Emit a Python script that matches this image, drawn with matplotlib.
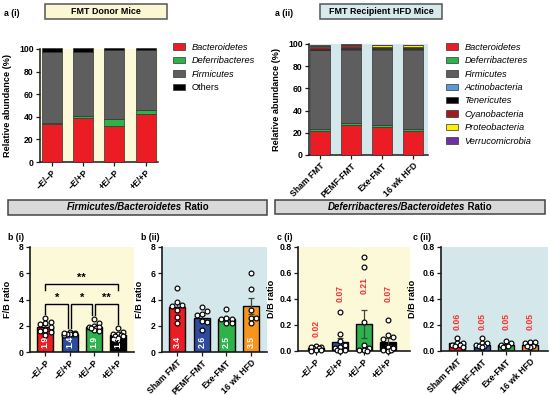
import numpy as np
import matplotlib
matplotlib.use('Agg')
import matplotlib.pyplot as plt
from matplotlib.patches import Rectangle
from matplotlib.offsetbox import TextArea, HPacker, AnnotationBbox

plt.rcParams['font.family'] = ['Liberation Sans', 'DejaVu Sans']
plt.rcParams['font.weight'] = 'bold'
plt.rcParams['axes.unicode_minus'] = True

# ---------------- data ----------------
donor_groups = ['−E/−P', '−E/+P', '+E/−P', '+E/+P']
recip_groups = ['Sham FMT', 'PEMF-FMT', 'Exe-FMT', '16 wk HFD']

donor_taxa = ['Bacteroidetes', 'Deferribacteres', 'Firmicutes', 'Others']
donor_bacteroidetes = [34.0, 38.7, 31.8, 42.3]
donor_deferribacteres = [0.3, 2.0, 6.6, 3.3]
donor_firmicutes = [62.7, 56.3, 60.4, 53.2]
donor_others = [4.0, 4.0, 2.2, 2.2]

recip_taxa = ['Bacteroidetes', 'Deferribacteres', 'Firmicutes', 'Actinobacteria',
              'Tenericutes', 'Cyanobacteria', 'Proteobacteria', 'Verrucomicrobia']
recip_bacteroidetes = [21.9, 27.0, 25.2, 21.9]
recip_deferribacteres = [1.8, 1.5, 1.5, 1.8]
recip_firmicutes = [70.9, 66.4, 68.2, 71.2]
recip_actinobacteria = [0.3, 0.3, 0.3, 0.3]
recip_tenericutes = [1.0, 1.5, 1.3, 1.2]
recip_cyanobacteria = [1.3, 1.2, 0.5, 0.6]
recip_proteobacteria = [0.6, 1.2, 2.0, 1.9]
recip_verrucomicrobia = [1.0, 0.8, 0.4, 0.4]

fb_donor_means = [1.9, 1.4, 1.9, 1.3]
fb_donor_points = [
    [2.3, 2.6, 2.2, 2.1, 1.9, 1.7, 1.3, 1.5, 1.6],
    [1.5, 1.45, 1.4, 1.35, 1.4, 1.3, 1.45, 1.35],
    [2.5, 2.2, 2.0, 1.9, 1.8, 1.9, 1.7, 1.6, 1.8],
    [1.8, 1.5, 1.4, 1.3, 1.35, 1.2, 1.1, 1.0, 1.2],
]
fb_recip_means = [3.4, 2.6, 2.5, 3.5]
fb_recip_points = [
    [4.9, 3.8, 3.6, 3.5, 3.2, 2.7, 2.2],
    [3.4, 3.1, 2.8, 2.9, 2.4, 2.3, 1.7],
    [3.3, 2.6, 2.5, 2.5, 2.2, 2.2],
    [6.0, 4.8, 3.2, 2.6, 2.6, 2.2],
]
db_donor_means = [0.02, 0.07, 0.21, 0.07]
db_donor_points = [
    [0.04, 0.03, 0.02, 0.02, 0.01, 0.01, 0.03, 0.0],
    [0.30, 0.13, 0.08, 0.05, 0.03, 0.02, 0.01, 0.01, 0.0],
    [0.72, 0.65, 0.22, 0.05, 0.02, 0.01, 0.0, 0.01],
    [0.24, 0.12, 0.11, 0.09, 0.03, 0.01, 0.0, 0.01, 0.02],
]
db_recip_means = [0.06, 0.05, 0.05, 0.05]
db_recip_points = [
    [0.10, 0.06, 0.06, 0.05, 0.05, 0.04, 0.03],
    [0.10, 0.06, 0.06, 0.05, 0.04, 0.04, 0.03],
    [0.08, 0.06, 0.05, 0.04, 0.03, 0.04],
    [0.07, 0.06, 0.07, 0.04, 0.03, 0.04],
]
db_donor_label_y = [0.17, 0.44, 0.50, 0.44]
db_recip_label_y = [0.23, 0.23, 0.23, 0.23]

fb_comparisons = [(0, 1, '*'), (1, 2, '*'), (2, 3, '**'), (0, 3, '**')]

# ---------------- style ----------------
YELLOW = '#FBF9D8'
BLUE = '#D4E8EC'
RED = '#EC1C24'
GREEN = '#2DB34A'
GREY = '#5E5E5E'
DBLUE = '#2E4C9E'
ORANGE = '#F7941D'
donor_colors = [RED, GREEN, GREY, 'black']
recip_colors = [RED, GREEN, GREY, '#5B9BD5', 'black', '#A3191C', '#FFF200', '#7030A0']
group_colors = [RED, DBLUE, GREEN, 'black']
recip_group_colors = [RED, DBLUE, GREEN, ORANGE]

W, H = 550, 395
fig = plt.figure(figsize=(W / 100, H / 100), dpi=100)
FS = 6.2


def add_ax(l, t, r, b):
    return fig.add_axes([l / W, 1 - b / H, (r - l) / W, (b - t) / H])


def fig_box(l, t, r, b, fc, ec, lw=1.1):
    fig.add_artist(Rectangle((l / W, 1 - b / H), (r - l) / W, (b - t) / H,
                             transform=fig.transFigure, fc=fc, ec=ec, lw=lw))


def fig_label(x, y, s, **kw):
    fig.text(x / W, 1 - y / H, s, **kw)


def style_axes(ax, lw=1.1):
    for s in ['top', 'right']:
        ax.spines[s].set_visible(False)
    for s in ['left', 'bottom']:
        ax.spines[s].set_linewidth(lw)
        ax.spines[s].set_color('#1a1a1a')
    ax.tick_params(direction='out', length=3, width=0.9, labelsize=FS, pad=1.5, color='#1a1a1a')


def ylabel_at(ax, text, xpx, box):
    l, t, r, b = box
    ax.set_ylabel(text, fontsize=6.6, fontweight='bold')
    ax.yaxis.set_label_coords((xpx - l) / (r - l), 0.5)


def stacked(box, groups, layers, colors, labels, bg, xlim, leg_xy):
    ax = add_ax(*box)
    x = np.arange(len(groups))
    bottom = np.zeros(len(groups))
    handles = []
    for vals, c in zip(layers, colors):
        vals = np.asarray(vals, float)
        bc = ax.bar(x, vals, 0.64, bottom=bottom, color=c, edgecolor='#333333',
                    linewidth=0.5, clip_on=False, zorder=3)
        bottom += vals
        handles.append(bc)
    ax.set_facecolor(bg)
    ax.set_xlim(*xlim)
    ax.set_ylim(0, 100)
    ax.set_yticks(range(0, 101, 20))
    ax.set_xticks(x)
    ax.set_xticklabels(groups, rotation=45, ha='right', va='top',
                       rotation_mode='anchor', fontsize=FS)
    style_axes(ax)
    leg = ax.legend(handles, labels, loc='upper left',
                    bbox_to_anchor=(leg_xy[0] / W, 1 - leg_xy[1] / H),
                    bbox_transform=fig.transFigure, frameon=False,
                    prop={'size': 6.7, 'style': 'italic', 'weight': 'normal'},
                    handlelength=1.25, handleheight=0.7, handletextpad=0.75,
                    labelspacing=0.47, borderpad=0, borderaxespad=0)
    for t in leg.get_texts():
        if t.get_text() == 'Others':
            t.set_style('normal')
    return ax


def swarm(vals, px_x, px_y, diam=5.2, maxoff=0.3):
    vals = np.asarray(vals, float)
    order = np.argsort(-vals, kind='stable')
    cands = [0.0]
    for k in range(1, 30):
        cands += [k * 0.5 * diam, -k * 0.5 * diam]
    placed = []
    offs = np.zeros(len(vals))
    for i in order:
        y = vals[i] * px_y
        best, bestd = 0.0, -1
        chosen = None
        for c in cands:
            if abs(c) / px_x > maxoff:
                continue
            d = min([np.hypot(c - ox, y - oy) for ox, oy in placed] + [1e9])
            if d >= diam:
                chosen = c
                break
            if d > bestd:
                best, bestd = c, d
        if chosen is None:
            chosen = best
        placed.append((chosen, y))
        offs[i] = chosen / px_x
    return offs


def ratio(box, groups, means, points, colors, bg, xlim, ylim, yticks, ytfmt,
          inside=True, label_y=None):
    ax = add_ax(*box)
    l, t, r, b = box
    x = np.arange(len(groups))
    ax.set_facecolor(bg)
    ax.bar(x, means, 0.66, color=colors, edgecolor='black', linewidth=1.0, zorder=2)
    sems = [np.std(p, ddof=1) / np.sqrt(len(p)) for p in points]
    ax.errorbar(x, means, yerr=sems, fmt='none', ecolor='#444444', elinewidth=0.9,
                capsize=2, capthick=0.9, zorder=3)
    px_x = (r - l) / (xlim[1] - xlim[0])
    px_y = (b - t) / (ylim[1] - ylim[0])
    for xi, p in zip(x, points):
        offs = swarm(p, px_x, px_y)
        ax.scatter(xi + offs, p, s=12, facecolor='white', edgecolor='black',
                   linewidth=0.85, zorder=4, clip_on=False)
    for i, m in enumerate(means):
        s = f'{m:.1f}' if inside else f'{m:.2f}'
        if inside:
            ax.text(i, 0.1 * ylim[1], s, rotation=90, ha='center', va='center',
                    color='white', fontsize=FS, fontweight='bold', zorder=5)
        else:
            ax.text(i, label_y[i], s, rotation=90, ha='center', va='center',
                    color='#FF2A2A', fontsize=FS, fontweight='bold', zorder=5)
    ax.set_xlim(*xlim)
    ax.set_ylim(*ylim)
    ax.set_yticks(yticks)
    ax.set_yticklabels([ytfmt.format(v) for v in yticks])
    ax.set_xticks(x)
    ax.set_xticklabels(groups, rotation=45, ha='right', va='top',
                       rotation_mode='anchor', fontsize=FS)
    style_axes(ax, lw=1.2)
    return ax


# ---------------- top row ----------------
box_ai = (40, 49, 158, 162)
ax_ai = stacked(box_ai, donor_groups,
                [donor_bacteroidetes, donor_deferribacteres, donor_firmicutes, donor_others],
                donor_colors, donor_taxa, YELLOW, (-0.385, 3.40), (173, 43))
ylabel_at(ax_ai, 'Relative abundance (%)', 12, box_ai)

box_aii = (309, 44, 428, 155)
ax_aii = stacked(box_aii, recip_groups,
                 [recip_bacteroidetes, recip_deferribacteres, recip_firmicutes,
                  recip_actinobacteria, recip_tenericutes, recip_cyanobacteria,
                  recip_proteobacteria, recip_verrucomicrobia],
                 recip_colors, recip_taxa, BLUE, (-0.355, 3.48), (446, 43))
ylabel_at(ax_aii, 'Relative abundance (%)', 281, box_aii)

fig_box(45, 4, 167, 19, '#FAF7D2', '#555555')
fig_label(106, 11.5, 'FMT Donor Mice', ha='center', va='center', fontsize=6.4, fontweight='bold')
fig_box(320, 4, 442, 19, '#D6EAEE', '#555555')
fig_label(381, 11.5, 'FMT Recipient HFD Mice', ha='center', va='center', fontsize=6.4, fontweight='bold')
fig_label(4, 13, 'a (i)', ha='left', va='center', fontsize=6.3, fontweight='bold')
fig_label(275, 13, 'a (ii)', ha='left', va='center', fontsize=6.3, fontweight='bold')

# ---------------- headers ----------------
def header(l, t, r, b, italic, rest):
    fig_box(l, t, r, b, '#D9D9D9', '#444444', lw=1.1)
    ta1 = TextArea(italic, textprops=dict(style='italic', fontweight='bold', fontsize=6.9))
    ta2 = TextArea(rest, textprops=dict(fontweight='bold', fontsize=6.9))
    pk = HPacker(children=[ta1, ta2], sep=0, pad=0, align='baseline')
    ab = AnnotationBbox(pk, ((l + r) / 2 / W, 1 - (t + b) / 2 / H), xycoords='figure fraction',
                        frameon=False, box_alignment=(0.5, 0.5), pad=0)
    fig.add_artist(ab)

header(8, 200, 267, 215, 'Firmicutes/Bacteroidetes', ' Ratio')
header(275, 200, 545, 214, 'Deferribacteres/Bacteroidetes', ' Ratio')

# ---------------- bottom row ----------------
box_bi = (30, 247, 134, 352)
ax_bi = ratio(box_bi, donor_groups, fb_donor_means, fb_donor_points, group_colors, YELLOW,
              (-0.64, 3.66), (0, 8), [0, 2, 4, 6, 8], '{:d}')
ylabel_at(ax_bi, 'F/B ratio', 12, box_bi)

# significance brackets
for i, j, star in fb_comparisons:
    if j - i == 1:
        yline = 3.65
        x1 = i + (0.06 if i > 0 else 0.0)
        x2 = j - (0.06 if j < 3 else 0.0)
        y1 = max(fb_donor_points[i]) + 0.3
        y2 = max(fb_donor_points[j]) + 0.3
    else:
        yline = 5.2
        x1, x2 = i, j
        y1 = y2 = yline - 0.45
    ax_bi.plot([x1, x1, x2, x2], [y1, yline, yline, y2], color='black', lw=1.0,
               solid_joinstyle='miter', zorder=6)
    ax_bi.text((x1 + x2) / 2, yline + 0.45, star, ha='center', va='center',
               fontsize=8, fontweight='bold', zorder=6)

box_bii = (162, 247, 267, 352)
ax_bii = ratio(box_bii, recip_groups, fb_recip_means, fb_recip_points, recip_group_colors, BLUE,
               (-0.61, 3.64), (0, 8), [0, 2, 4, 6, 8], '{:d}')
ylabel_at(ax_bii, 'F/B ratio', 144, box_bii)

box_ci = (298, 247, 410, 351)
ax_ci = ratio(box_ci, donor_groups, db_donor_means, db_donor_points, group_colors, YELLOW,
              (-0.75, 3.92), (0, 0.8), [0.0, 0.2, 0.4, 0.6, 0.8], '{:.1f}',
              inside=False, label_y=db_donor_label_y)
ylabel_at(ax_ci, 'D/B ratio', 276, box_ci)

box_cii = (441, 247, 548, 351)
ax_cii = ratio(box_cii, recip_groups, db_recip_means, db_recip_points, recip_group_colors, BLUE,
               (-0.68, 3.74), (0, 0.8), [0.0, 0.2, 0.4, 0.6, 0.8], '{:.1f}',
               inside=False, label_y=db_recip_label_y)
ylabel_at(ax_cii, 'D/B ratio', 417, box_cii)

fig_label(8, 237, 'b (i)', ha='left', va='center', fontsize=6.3, fontweight='bold')
fig_label(141, 237, 'b (ii)', ha='left', va='center', fontsize=6.3, fontweight='bold')
fig_label(277, 237, 'c (i)', ha='left', va='center', fontsize=6.3, fontweight='bold')
fig_label(413, 237, 'c (ii)', ha='left', va='center', fontsize=6.3, fontweight='bold')

fig.savefig('out.png', dpi=100, facecolor='white')
